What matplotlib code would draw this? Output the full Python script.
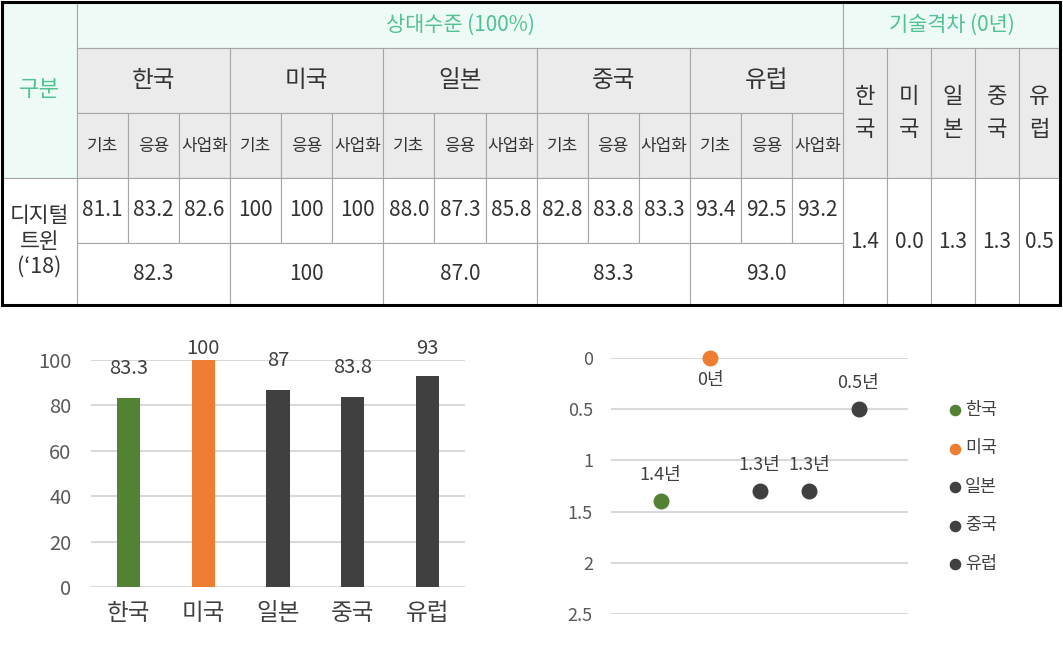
import matplotlib
matplotlib.use("Agg")
import matplotlib.pyplot as plt
from matplotlib.patches import Rectangle

plt.rcParams['font.family'] = ['Noto Sans CJK KR', 'DejaVu Sans']

countries = ['한국', '미국', '일본', '중국', '유럽']
stages = ['기초', '응용', '사업화']
basic = [81.1, 100, 88.0, 82.8, 93.4]
applied = [83.2, 100, 87.3, 83.8, 92.5]
commercial = [82.6, 100, 85.8, 83.3, 93.2]
average = [82.3, 100, 87.0, 83.3, 93.0]
gap_years = [1.4, 0.0, 1.3, 1.3, 0.5]
bar_values = [83.3, 100, 87, 83.8, 93]
row_label = '디지털\n트윈\n(‘18)'
level_title = '상대수준 (100%)'
gap_title = '기술격차 (0년)'
group_title = '구분'

GREEN = '#548235'
ORANGE = '#ed7d31'
DARK = '#404040'
colors = [GREEN, ORANGE, DARK, DARK, DARK]
MINT = '#eefaf6'
GRAY = '#ebebeb'
LINE = '#a6a6a6'
TXT = '#333333'
TGREEN = '#52c293'


def fmt(v):
    return '100' if v == 100 else f'{v:.1f}'


fig = plt.figure(figsize=(10.63, 6.6), dpi=100)

# ---- table -------------------------------------------------------------
tab = fig.add_axes([0, 1 - 307 / 660, 1, 307 / 660])
tab.set_xlim(0, 1063)
tab.set_ylim(307, 0)
tab.axis('off')

rows = [2, 48, 113, 178, 243, 305]
x_left, x_grp = 2, 77
sub_w = (843 - x_grp) / 15
gap_x = [843, 887, 931, 975, 1019, 1060]


def cell(x0, x1, y0, y1, text='', fc='white', color=TXT, size=14, ls=1.2):
    tab.add_patch(Rectangle((x0, y0), x1 - x0, y1 - y0, fc=fc, ec=LINE, lw=0.8))
    if text:
        tab.text((x0 + x1) / 2, (y0 + y1) / 2, text, ha='center', va='center',
                 color=color, fontsize=size, linespacing=ls)


cell(x_left, x_grp, rows[0], rows[3], group_title, MINT, TGREEN, 16)
cell(x_grp, gap_x[0], rows[0], rows[1], level_title, MINT, TGREEN, 15)
cell(gap_x[0], gap_x[-1], rows[0], rows[1], gap_title, MINT, TGREEN, 15)

for i, c in enumerate(countries):
    cx0 = x_grp + 3 * i * sub_w
    cell(cx0, cx0 + 3 * sub_w, rows[1], rows[2], c, GRAY, TXT, 17)
    vals = [basic[i], applied[i], commercial[i]]
    for j, s in enumerate(stages):
        sx = cx0 + j * sub_w
        cell(sx, sx + sub_w, rows[2], rows[3], s, GRAY, TXT, 12.2)
        cell(sx, sx + sub_w, rows[3], rows[4], fmt(vals[j]), 'white', TXT, 15)
    cell(cx0, cx0 + 3 * sub_w, rows[4], rows[5], fmt(average[i]), 'white', TXT, 15)
    cell(gap_x[i], gap_x[i + 1], rows[1], rows[3], '\n'.join(c), GRAY, TXT, 16, 1.6)
    cell(gap_x[i], gap_x[i + 1], rows[3], rows[5], f'{gap_years[i]:.1f}', 'white', TXT, 15)

cell(x_left, x_grp, rows[3], rows[5], row_label, 'white', TXT, 15.5, 1.2)
tab.add_patch(Rectangle((1.5, 1.5), 1058.5, 303.5, fc='none', ec='black', lw=2.2))

# ---- bar chart ---------------------------------------------------------
ax1 = fig.add_axes([91 / 1063, 1 - 587 / 660, 374 / 1063, 227 / 660])
xs = range(len(countries))
ax1.bar(xs, bar_values, width=0.31, color=colors, zorder=3)
for x, v in zip(xs, bar_values):
    ax1.text(x, min(v + 13, 105), f'{v:g}', ha='center', va='center',
             fontsize=14.5, color='#404040')
ax1.set_xlim(-0.5, 4.5)
ax1.set_ylim(0, 100)
ax1.set_yticks(range(0, 101, 20))
ax1.set_xticks(list(xs))
ax1.set_xticklabels(countries, fontsize=17, color='#404040')
ax1.tick_params(axis='y', labelsize=14.5, labelcolor='#595959', length=0, pad=14)
ax1.tick_params(axis='x', length=0, pad=11)
ax1.grid(axis='y', color='#d9d9d9', lw=1.5, zorder=0)
for sp in ax1.spines.values():
    sp.set_visible(False)

# ---- dot chart ---------------------------------------------------------
ax2 = fig.add_axes([611 / 1063, 1 - 614 / 660, 297 / 1063, 256 / 660])
for i, (c, v) in enumerate(zip(countries, gap_years)):
    ax2.scatter(i + 1, v, s=110, color=colors[i], label=c, zorder=3, clip_on=False)
    off = 19 if v > 0.2 else -16
    ax2.annotate(f'{v:g}년', (i + 1, v), xytext=(0, off), textcoords='offset points',
                 ha='center', va='center', fontsize=13, color='#404040')
ax2.set_xlim(0, 6)
ax2.set_ylim(2.5, 0)
ax2.set_yticks([0, 0.5, 1, 1.5, 2, 2.5])
ax2.set_yticklabels(['0', '0.5', '1', '1.5', '2', '2.5'])
ax2.set_xticks([])
ax2.tick_params(axis='y', labelsize=13, labelcolor='#595959', length=0, pad=13)
ax2.grid(axis='y', color='#d9d9d9', lw=1.5, zorder=0)
for sp in ax2.spines.values():
    sp.set_visible(False)
ax2.legend(loc='upper left', bbox_to_anchor=(938 / 1063, 1 - 392 / 660),
           bbox_transform=fig.transFigure, frameon=False, fontsize=12.5,
           labelspacing=1.18, handletextpad=0.05, markerscale=0.7,
           handlelength=1.0, borderpad=0, labelcolor='#404040')

fig.savefig('out.png', dpi=100)
